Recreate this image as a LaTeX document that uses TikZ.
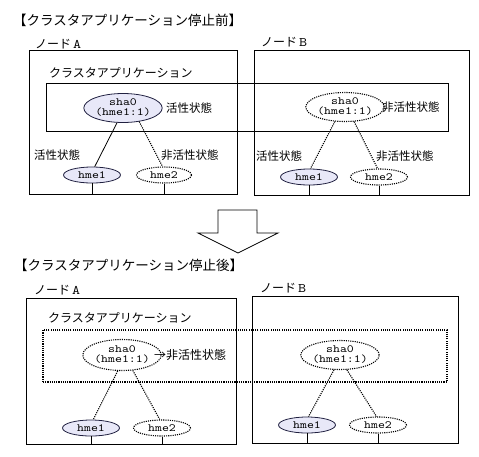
\documentclass[tikz,border=0pt]{standalone}
\usepackage{fontspec}
\setmonofont[FakeStretch=1.2]{Latin Modern Mono}
\newfontfamily\jpfont{Noto Sans CJK JP}
\usepackage{tikz}
\usetikzlibrary{positioning,shapes.geometric}
\definecolor{IfFill}{HTML}{E8E8F8}
\definecolor{IfLine}{HTML}{202040}
\newcommand\nodeltr[1]{\hspace{2pt}{\ttfamily\fontsize{13}{13}\selectfont #1}}

\begin{document}
\begin{tikzpicture}[
  x=1pt, y=-1pt,
  box/.style={draw=black,line width=0.8pt,minimum width=#1,inner sep=0pt},
  app/.style={draw=black,line width=0.8pt,inner sep=0pt},
  dots/.style={line width=1.1pt,dash pattern=on 1.1pt off 1.1pt},
  sha/.style={ellipse,draw=IfLine,line width=0.8pt,fill=IfFill,inner sep=0pt,
              minimum width=68,minimum height=29,align=center,
              font=\ttfamily\fontsize{11}{10}\selectfont},
  hme/.style={ellipse,draw=IfLine,line width=0.8pt,fill=IfFill,inner sep=0pt,
              minimum width=57,minimum height=16,font=\ttfamily\fontsize{11}{11}\selectfont},
  off/.style={fill=white,draw=black,dots},
  jp/.style={anchor=west,inner sep=0pt,font=\jpfont\fontsize{11.5}{13}\selectfont},
  jpl/.style={anchor=west,inner sep=0pt,font=\jpfont\fontsize{12}{14}\selectfont},
  ttl/.style={anchor=west,inner sep=0pt,font=\jpfont\fontsize{13.5}{15}\selectfont},
  e/.style={line width=0.8pt},
]
\useasboundingbox (0,0) rectangle (479,456);

% before: both nodes, the application box spans them
\node[ttl] (ttlT) at (13,20) {【クラスタアプリケーション停止前】};
\node[box=208,minimum height=144] (boxTA) at (133,122) {};
\node[box=215,minimum height=145] (boxTB) at (361.5,122.5) {};
\node[jpl] at (35,44) {ノード\nodeltr{A}};
\node[jpl] at (261,42) {ノード\nodeltr{B}};
\node[app,minimum width=402,minimum height=48] (appT) at (247,107) {};
\node[jpl] at (49,73) {クラスタアプリケーション};

\node[sha] (shaTA) at (123,108) {sha0\\(hme1:1)};
\node[sha,off] (shaTB) at (345,107) {sha0\\(hme1:1)};
\node[hme] (hmeTA1) at (92,175) {hme1};
\node[hme,off,minimum width=55] (hmeTA2) at (164,175) {hme2};
\node[hme] (hmeTB1) at (309,177) {hme1};
\node[hme,off] (hmeTB2) at (379,177) {hme2};

\node[jp] at (166,108) {活性状態};
\node[jp] at (34,155) {活性状態};
\node[jp] at (161,155) {非活性状態};
\node[jp] at (382,107) {非活性状態};
\node[jp] at (256,156) {活性状態};
\node[jp] at (376,156) {非活性状態};

\draw[e] (shaTA.-112) -- (hmeTA1.72);
\draw[e,dots] (shaTA.-40) -- (hmeTA2.100);
\draw[e,dots] (shaTB.-125) -- (hmeTB1.80);
\draw[e,dots] (shaTB.-58) -- (hmeTB2.100);
\foreach \h/\b in {hmeTA1/boxTA,hmeTA2/boxTA,hmeTB1/boxTB,hmeTB2/boxTB}
  \draw[e] (\h.south) -- (\h.south |- \b.south);

% hollow arrow between the two states
\draw[line width=0.8pt] (218,210) -- (257,210) -- (257,233) -- (278,233)
  -- (238,253) -- (198,233) -- (218,233) -- cycle;

% after: application stopped, everything inactive
\node[ttl] (ttlB) at (14,265) {【クラスタアプリケーション停止後】};
\node[box=210,minimum height=146] (boxBA) at (131,371) {};
\node[box=206,minimum height=147] (boxBB) at (355,369.5) {};
\node[jpl] at (34,290) {ノード\nodeltr{A}};
\node[jpl] at (260,288) {ノード\nodeltr{B}};
\node[app,dots,minimum width=404,minimum height=52] (appB) at (245,356) {};
\node[jpl] at (48,318) {クラスタアプリケーション};

\node[sha,off,minimum width=64,minimum height=31] (shaBA) at (122,355) {sha0\\(hme1:1)};
\node[sha,off] (shaBB) at (340,355) {sha0\\(hme1:1)};
\node[hme] (hmeBA1) at (91,428) {hme1};
\node[hme,off] (hmeBA2) at (162,428) {hme2};
\node[hme] (hmeBB1) at (307,425) {hme1};
\node[hme,off] (hmeBB2) at (378,425) {hme2};

\node[jpl] at (154,355) {→非活性状態};

\draw[e,dots] (shaBA.-105) -- (hmeBA1.75);
\draw[e,dots] (shaBA.-55) -- (hmeBA2.105);
\draw[e,dots] (shaBB.-112) -- (hmeBB1.80);
\draw[e,dots] (shaBB.-65) -- (hmeBB2.100);
\foreach \h/\b in {hmeBA1/boxBA,hmeBA2/boxBA,hmeBB1/boxBB,hmeBB2/boxBB}
  \draw[e] (\h.south) -- (\h.south |- \b.south);
\end{tikzpicture}
\end{document}
